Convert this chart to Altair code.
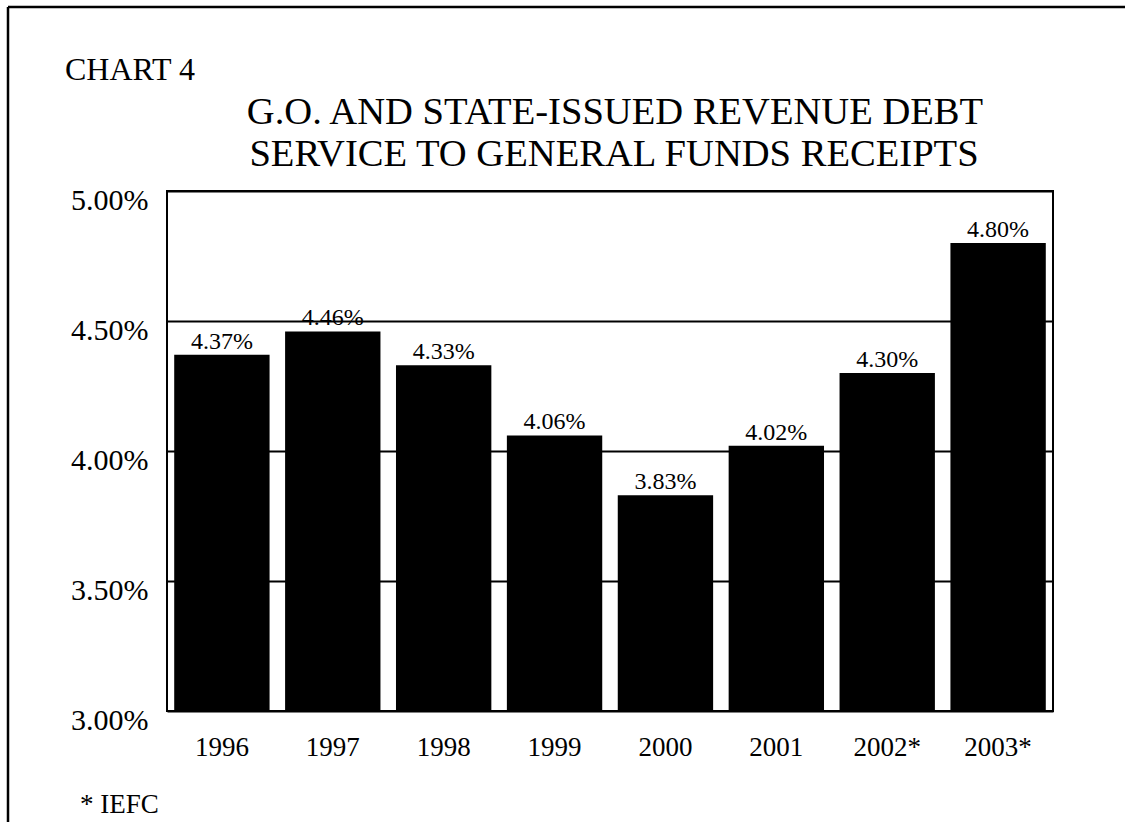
import altair as alt
import pandas as pd

years = ["1996", "1997", "1998", "1999", "2000", "2001", "2002*", "2003*"]
ratios = [4.37, 4.46, 4.33, 4.06, 3.83, 4.02, 4.30, 4.80]
y_ticks = [3.0, 3.5, 4.0, 4.5, 5.0]
y_floor = 3.0

df = pd.DataFrame({"year": years, "ratio": ratios})
df["label"] = [f"{v:.2f}%" for v in ratios]

FONT = "Liberation Serif"
W, H = 886, 520

x_enc = alt.X("year:N", sort=years, title=None,
              scale=alt.Scale(paddingInner=0.14, paddingOuter=0.065),
              axis=alt.Axis(labelAngle=0, labelFontSize=27, labelFont=FONT,
                            labelColor="black", ticks=False, domain=False,
                            labelPadding=23, grid=False))
y_enc = alt.Y("ratio:Q", title=None,
              scale=alt.Scale(domain=[3.0, 5.0], nice=False, zero=False),
              axis=alt.Axis(values=y_ticks,
                            labelExpr="format(datum.value, '.2f') + '%'",
                            labelFontSize=30, labelFont=FONT, labelColor="black",
                            ticks=False, domain=False, labelPadding=19,
                            labelOffset=9, grid=True, gridColor="black",
                            gridWidth=2, gridOpacity=1))

base = alt.Chart(df)
bars = base.mark_bar(color="black").encode(x=x_enc, y=y_enc, y2=alt.datum(y_floor))
labels = base.mark_text(font=FONT, fontSize=24, color="black",
                        baseline="alphabetic", dy=-6).encode(
    x=alt.X("year:N", sort=years), y="ratio:Q", text="label:N")

one = pd.DataFrame({"k": [0]})
ann = alt.Chart(one)

title1 = ann.mark_text(text="G.O. AND STATE-ISSUED REVENUE DEBT", font=FONT,
                       fontSize=38.6, align="center", baseline="alphabetic",
                       color="black").encode(x=alt.value(W / 2 + 5), y=alt.value(-67))
title2 = ann.mark_text(text="SERVICE TO GENERAL FUNDS RECEIPTS", font=FONT,
                       fontSize=38.6, align="center", baseline="alphabetic",
                       color="black").encode(x=alt.value(W / 2 + 4), y=alt.value(-25))
chart_no = ann.mark_text(text="CHART 4", font=FONT, fontSize=32, align="left",
                         baseline="alphabetic", color="black").encode(
    x=alt.value(-102), y=alt.value(-111))
note = ann.mark_text(text="* IEFC", font=FONT, fontSize=27, align="left",
                     baseline="alphabetic", color="black").encode(
    x=alt.value(-87), y=alt.value(622))
top_line = ann.mark_rule(color="black", strokeWidth=2.5).encode(
    x=alt.value(-159), x2=alt.value(958), y=alt.value(-184))
left_line = ann.mark_rule(color="black", strokeWidth=2.5).encode(
    x=alt.value(-159), y=alt.value(-184), y2=alt.value(640))

chart = alt.layer(bars, labels, title1, title2, chart_no, note, top_line, left_line).properties(
    width=W, height=H,
    autosize=alt.AutoSizeParams(type="none"),
    padding={"left": 167, "top": 191, "right": 72, "bottom": 111},
    background="white",
).configure_view(stroke="black", strokeWidth=2)

chart.save("out.html", embed_options={"renderer": "svg", "actions": False})
